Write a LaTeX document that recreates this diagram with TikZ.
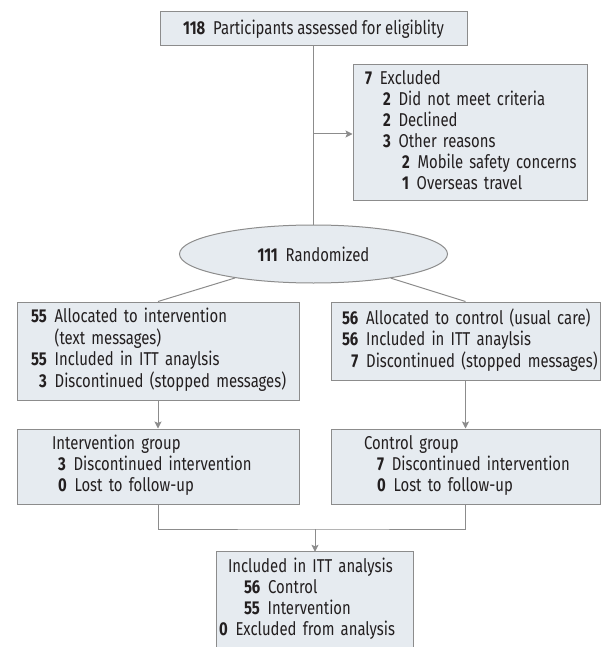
\documentclass[tikz,border=0pt]{standalone}
\usepackage{fontspec}
\setmainfont{Fira Sans}[FakeStretch=0.80]
\usetikzlibrary{shapes.geometric,arrows.meta}
\definecolor{boxfill}{HTML}{E6EBF0}
\definecolor{boxline}{HTML}{8C8C8C}
\definecolor{ink}{HTML}{231F20}
\newcommand\gp{\hspace{0.42em}}
\begin{document}
\begin{tikzpicture}[x=1pt,y=-1pt,
  every node/.style={font=\fontsize{18.6}{21}\selectfont, text=ink},
  box/.style={draw=boxline, fill=boxfill, line width=1pt, inner ysep=0pt, align=left},
  conn/.style={draw=boxline, line width=1pt},
  arr/.style={conn, -{Stealth[length=7pt,width=7pt,inset=1.5pt]}}]
\useasboundingbox (0,0) rectangle (607,647);

\node[box, minimum width=307, minimum height=34, align=center, inner xsep=0pt] (elig) at (313.5,29)
  {\textbf{118}\gp Participants assessed for eligiblity};

\node[box, minimum height=135, text width=210, inner xsep=12pt] (excl) at (470,132.5)
  {\begin{tabular}{@{}l@{}}
   \textbf{7}\gp Excluded\\
   \hspace{18pt}\textbf{2}\gp Did not meet criteria\\
   \hspace{18pt}\textbf{2}\gp Declined\\
   \hspace{18pt}\textbf{3}\gp Other reasons\\
   \hspace{37pt}\textbf{2}\gp Mobile safety concerns\\
   \hspace{37pt}\textbf{1}\gp Overseas travel
   \end{tabular}};

\node[box, ellipse, minimum width=268, minimum height=58, inner sep=0pt] (rand) at (313.5,254)
  {\textbf{111}\gp Randomized};

\node[box, minimum height=98, text width=254, inner xsep=14pt] (allocL) at (158,351)
  {\begin{tabular}{@{}r@{\gp}l@{}}
   \textbf{55} & Allocated to intervention\\
               & (text messages)\\
   \textbf{55} & Included in ITT anaylsis\\
   \textbf{3}  & Discontinued (stopped messages)
   \end{tabular}};

\node[box, minimum height=78, text width=247, inner xsep=11pt] (allocR) at (465.5,341)
  {\begin{tabular}{@{}r@{\gp}l@{}}
   \textbf{56} & Allocated to control (usual care)\\
   \textbf{56} & Included in ITT anaylsis\\
   \textbf{7}  & Discontinued (stopped messages)
   \end{tabular}};

\node[box, minimum height=75, text width=212, inner xsep=35pt] (grpL) at (158,466.5)
  {\begin{tabular}{@{}l@{}}
   Intervention group\\
   \hspace{6pt}\textbf{3}\gp Discontinued intervention\\
   \hspace{6pt}\textbf{0}\gp Lost to follow-up
   \end{tabular}};

\node[box, minimum height=75, text width=203, inner xsep=33pt] (grpR) at (465.5,466.5)
  {\begin{tabular}{@{}l@{}}
   Control group\\
   \hspace{13pt}\textbf{7}\gp Discontinued intervention\\
   \hspace{13pt}\textbf{0}\gp Lost to follow-up
   \end{tabular}};

\node[fill=boxfill, minimum width=196, minimum height=95, text width=192, inner xsep=2pt, inner ysep=0pt, align=left] (fin) at (315,599.5)
  {\begin{tabular}{@{}l@{}}
   \hspace{9pt}Included in ITT analysis\\
   \hspace{25pt}\textbf{56}\gp Control\\
   \hspace{25pt}\textbf{55}\gp Intervention\\
   \textbf{0}\gp Excluded from analysis
   \end{tabular}};
\draw[conn] (fin.south west) -- (fin.north west) -- (fin.north east) -- (fin.south east);

\coordinate (br) at (313.5,134);
\coordinate (jn) at (315,529);
\draw[conn] (elig.south) -- (rand.north);
\draw[arr] (br) -- (excl.west |- br);
\draw[conn] (rand) -- (allocL.north);
\draw[conn] (rand) -- (allocR.north);
\draw[arr] (allocL.south) -- (grpL.north);
\draw[arr] (allocR.south) -- (grpR.north);
\draw[conn] (grpL.south) |- (jn) -| (grpR.south);
\draw[arr] (jn) -- (fin.north);
\end{tikzpicture}
\end{document}
